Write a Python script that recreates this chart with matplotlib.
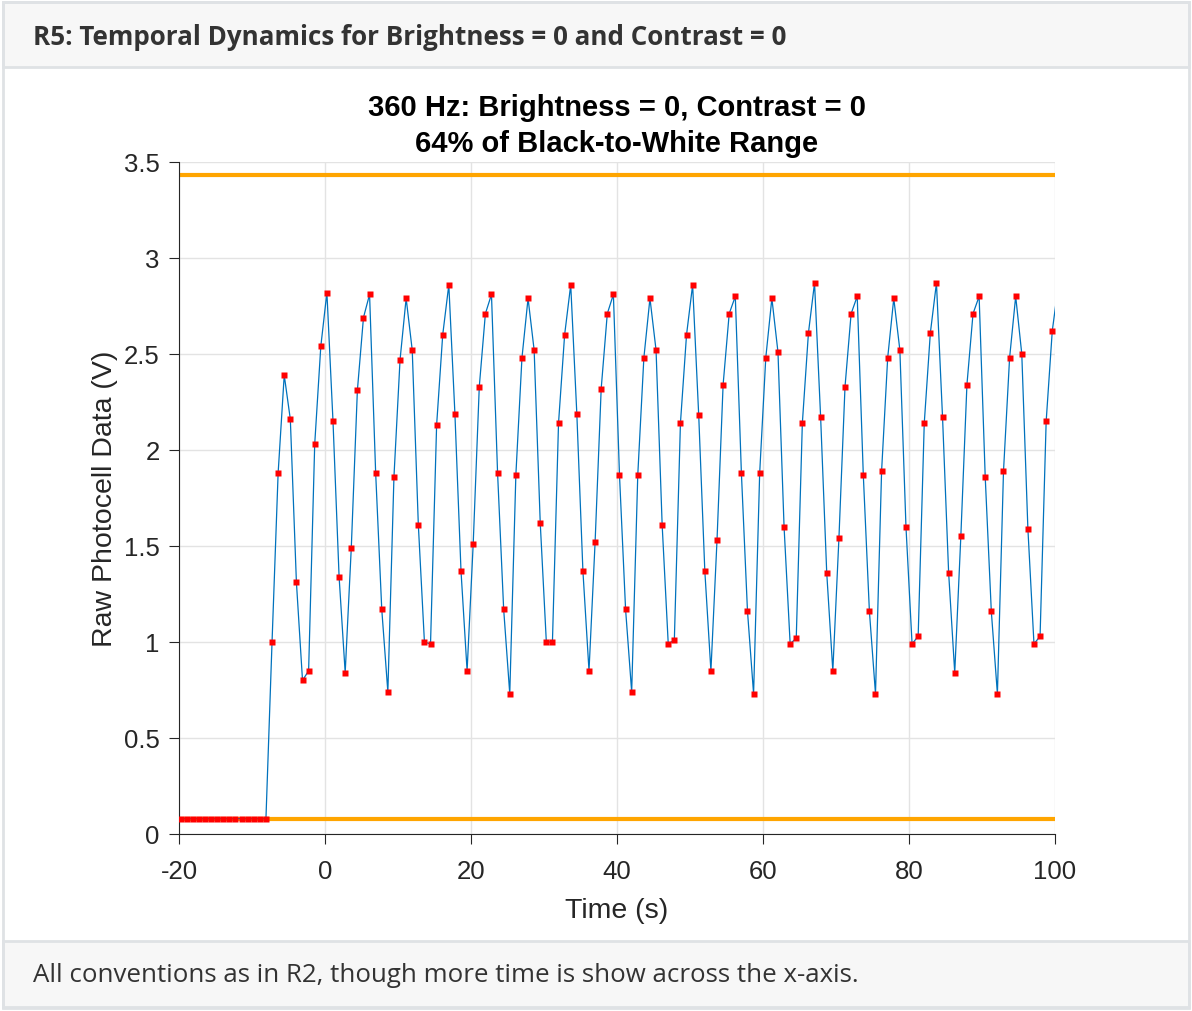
import numpy as np
import matplotlib.pyplot as plt
from matplotlib.patches import Rectangle

# sampled photocell signal (V), uniform sampling
t_start = -19.78
dt = 0.835
photocell_v = [0.08] * 15 + [
    1.00, 1.88, 2.39, 2.16, 1.31, 0.80, 0.85, 2.03, 2.54, 2.82, 2.15, 1.34, 0.84, 1.49, 2.31, 2.69,
    2.81, 1.88, 1.17, 0.74, 1.86, 2.47,
    2.79, 2.52, 1.61, 1.00, 0.99, 2.13, 2.60, 2.86, 2.19, 1.37, 0.85, 1.51, 2.33, 2.71, 2.81, 1.88,
    1.17, 0.73, 1.87, 2.48, 2.79, 2.52, 1.62, 1.00, 1.00, 2.14, 2.60, 2.86, 2.19, 1.37, 0.85, 1.52,
    2.32, 2.71, 2.81, 1.87,
    1.17, 0.74, 1.87, 2.48, 2.79, 2.52, 1.61, 0.99, 1.01, 2.14, 2.60, 2.86, 2.18, 1.37, 0.85, 1.53,
    2.34, 2.71, 2.80, 1.88, 1.16, 0.73, 1.88, 2.48, 2.79, 2.51, 1.60, 0.99, 1.02, 2.14, 2.61, 2.87,
    2.17, 1.36, 0.85, 1.54,
    2.33, 2.71, 2.80, 1.87, 1.16, 0.73, 1.89, 2.48, 2.79, 2.52, 1.60, 0.99, 1.03, 2.14, 2.61, 2.87,
    2.17, 1.36, 0.84, 1.55, 2.34, 2.71, 2.80, 1.86, 1.16, 0.73, 1.89, 2.48, 2.80, 2.50, 1.59, 0.99,
    1.03, 2.15, 2.62, 2.86,
]
time_s = t_start + dt * np.arange(len(photocell_v))
photocell_v = np.array(photocell_v)

# black / white reference levels
ref_levels = [0.078, 3.43]

header = "R5: Temporal Dynamics for Brightness = 0 and Contrast = 0"
caption = "All conventions as in R2, though more time is show across the x-axis."
title = "360 Hz: Brightness = 0, Contrast = 0\n64% of Black-to-White Range"

plt.rcParams["axes.unicode_minus"] = False

W, H = 1192, 1012
fig = plt.figure(figsize=(W / 100, H / 100), dpi=100)

# page frame (header / footer bands), in pixel coords
bg = fig.add_axes([0, 0, 1, 1])
bg.set_xlim(0, W)
bg.set_ylim(H, 0)
bg.axis("off")
edge = "#dfe2e5"
bg.add_patch(Rectangle((3, 3), W - 6, 65, facecolor="#f7f7f7", edgecolor=edge, lw=2))
bg.add_patch(Rectangle((3, 942), W - 6, 66, facecolor="#f7f7f7", edgecolor=edge, lw=2))
bg.add_patch(Rectangle((3, 3), W - 6, H - 6, facecolor="none", edgecolor=edge, lw=2))
bg.text(33, 37, header, fontfamily="Open Sans", fontweight="bold", fontsize=18.7,
        color="#333333", va="center", ha="left")
bg.text(33, 976, caption, fontfamily="Open Sans", fontsize=18.6,
        color="#333333", va="center", ha="left")

ax = fig.add_axes([179 / W, 1 - 835 / H, (1055 - 179) / W, (835 - 163) / H])

for lvl in ref_levels:
    ax.axhline(lvl, color="#FFA500", lw=3, zorder=2)
ax.plot(time_s, photocell_v, color="#0072BD", lw=0.9, zorder=3)
shown = time_s <= 100
ax.plot(time_s[shown], photocell_v[shown], ls="none", marker="s", ms=3.8, color="red",
        mec="none", zorder=4)

ax.set_xlim(-20, 100)
ax.set_ylim(0, 3.5)
ax.set_xticks(np.arange(-20, 101, 20))
ax.set_yticks(np.arange(0, 3.51, 0.5))
ax.set_yticklabels(["0", "0.5", "1", "1.5", "2", "2.5", "3", "3.5"])
ax.grid(True, color="#e3e3e3", lw=1)
ax.set_axisbelow(True)
for s in ["top", "right"]:
    ax.spines[s].set_visible(False)
for s in ["left", "bottom"]:
    ax.spines[s].set_color("#262626")
    ax.spines[s].set_linewidth(0.8)
ax.tick_params(direction="out", length=7, width=0.8, colors="#262626", labelsize=18.5,
               labelfontfamily="Liberation Sans")
ax.tick_params(axis="x", pad=11)
ax.tick_params(axis="y", pad=7)
ax.set_xlabel("Time (s)", fontsize=20.5, fontfamily="Liberation Sans", color="#262626", labelpad=10)
ax.set_ylabel("Raw Photocell Data (V)", fontsize=20.5, fontfamily="Liberation Sans", color="#262626",
              labelpad=4)
ax.set_title(title, fontsize=21, fontweight="bold", fontfamily="Liberation Sans", pad=8,
             linespacing=1.35)

fig.savefig("out.png", dpi=100)
